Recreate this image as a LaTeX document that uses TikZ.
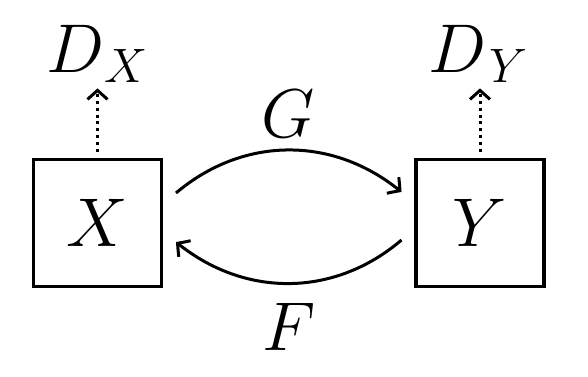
\RequirePackage{fix-cm}
\documentclass[tikz,border=0pt]{standalone}
\usetikzlibrary{arrows.meta,bending}
\begin{document}
\begin{tikzpicture}[x=0.5pt,y=-0.5pt,
  box/.style={draw, line width=1.6pt, minimum width=64pt, minimum height=63.5pt, inner sep=0pt, outer sep=0pt, font=\fontsize{34.5}{40}\selectfont},
  lbl/.style={inner sep=0pt, outer sep=0pt, font=\fontsize{34.5}{40}\selectfont},
  map/.style={line width=1.5pt, -{Straight Barb[length=4.5pt,width=10pt,bend]}},
  disc/.style={line width=1.5pt, dash pattern=on 1.5pt off 1.9pt, -{Straight Barb[length=4.5pt,width=10pt]}}]
\useasboundingbox (0,0) rectangle (588,376);
\node[box] (X) at (97.5,223) {$X$};
\node[box] (Y) at (480,223) {$Y$};
\node[lbl, anchor=base] (DX) at (97.5,72) {$D_{\!\mkern4mu X}$};
\node[lbl, anchor=base] (DY) at (478.5,72) {$D_{\mkern2mu Y}$};
\draw[disc, shorten <=4pt, shorten >=3pt] (X.north) -- (X.north |- DX.south);
\draw[disc, shorten <=4pt, shorten >=3pt] (Y.north) -- (Y.north |- DY.south);
\draw[map] ([xshift=7.25pt,yshift=15pt]X.east) to[bend left=40] node[lbl, above=6pt] (G) {$G$} ([xshift=-7.25pt,yshift=15.5pt]Y.west);
\draw[map] ([xshift=-7.25pt,yshift=-8.5pt]Y.west) to[bend left=40] node[lbl, below=10pt] (F) {$F$} ([xshift=7.25pt,yshift=-9.5pt]X.east);
\end{tikzpicture}
\end{document}
